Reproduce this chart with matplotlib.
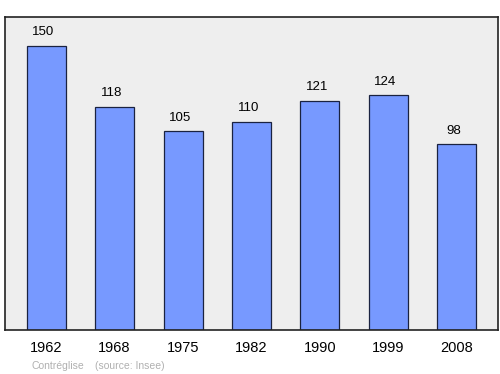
import matplotlib.pyplot as plt

# ---- Data ----
years = ['1962', '1968', '1975', '1982', '1990', '1999', '2008']
population = [150, 118, 105, 110, 121, 124, 98]

plt.rcParams['font.family'] = ['Liberation Sans', 'DejaVu Sans']

fig = plt.figure(figsize=(5, 3.74), dpi=100)
ax = fig.add_axes([0.01, 0.1176, 0.986, 0.837])
ax.set_facecolor('#eeeeee')

x = list(range(len(years)))
ax.bar(x, population, width=0.57, color='#7799ff', edgecolor='#1a2240', linewidth=0.9)

# value labels above bars (sit a little left of centre, like the original)
for xi, v in zip(x, population):
    ax.annotate(str(v), (xi, v), xytext=(-2.2, 5.5), textcoords='offset points',
                ha='center', va='bottom', fontsize=9.5)

ax.set_xlim(-0.6, 6.6)
ax.set_ylim(0, 165.3)
ax.set_yticks([])
ax.set_xticks(x)
ax.set_xticklabels(years, fontsize=10.5)
ax.tick_params(axis='x', length=0, pad=8)
for s in ax.spines.values():
    s.set_linewidth(1.2)
    s.set_color('#222222')

fig.text(0.062, 0.013, 'Contréglise', color='#b0b0b0', fontsize=7.5)
fig.text(0.19, 0.013, '(source: Insee)', color='#b0b0b0', fontsize=7.5)

fig.savefig('out.png', dpi=100)
